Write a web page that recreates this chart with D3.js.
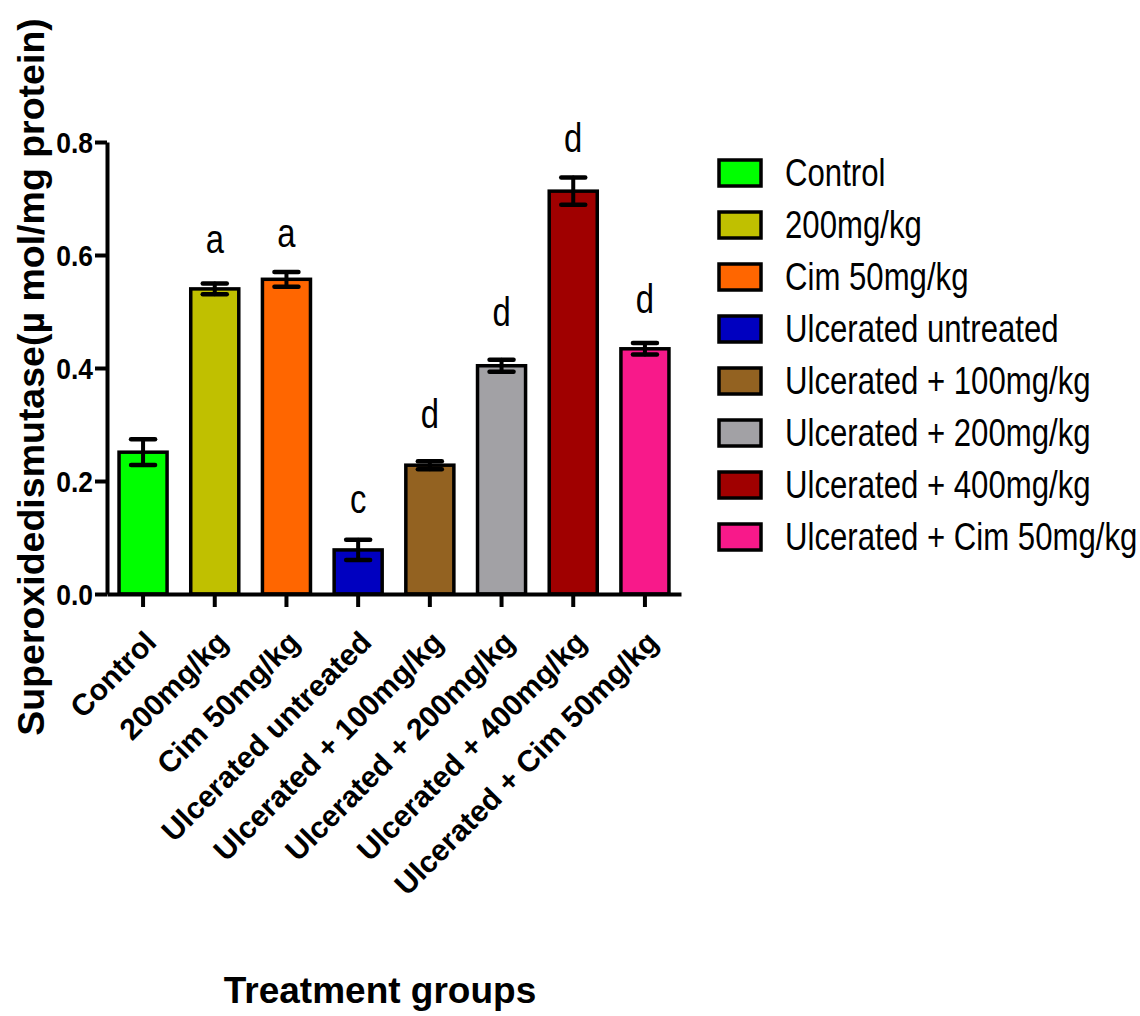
<!DOCTYPE html>
<html>
<head>
<meta charset="utf-8">
<script src="https://cdn.jsdelivr.net/npm/d3@7"></script>
<style>
  html, body { margin: 0; padding: 0; background: #fff; }
  svg { display: block; }
</style>
</head>
<body>
<script>
// ---- data ----
const categories = ["Control", "200mg/kg", "Cim 50mg/kg", "Ulcerated untreated",
  "Ulcerated + 100mg/kg", "Ulcerated + 200mg/kg", "Ulcerated + 400mg/kg", "Ulcerated + Cim 50mg/kg"];
const means = [0.251, 0.540, 0.557, 0.078, 0.228, 0.404, 0.713, 0.434];
const errors = [0.0227, 0.0094, 0.013, 0.018, 0.007, 0.0106, 0.024, 0.0103];
const colors = ["#00ff00", "#c0c000", "#ff6600", "#0000c0", "#936221", "#a2a1a5", "#a00000", "#f8198a"];
const letters = ["", "a", "a", "c", "d", "d", "d", "d"];
const letterValues = [null, 0.6035, 0.614, 0.143, 0.294, 0.475, 0.782, 0.497];
const yTicks = [0.0, 0.2, 0.4, 0.6, 0.8];
const yTitle = "Superoxidedismutase(\u00b5 mol/mg protein)";
const xTitle = "Treatment groups";

// ---- layout ----
const W = 1140, H = 1016;
const svg = d3.select("body").append("svg").attr("width", W).attr("height", H);

const y = d3.scaleLinear().domain([0, 0.8]).range([594, 142]);
const x = d3.scaleBand().domain(categories).range([107, 681]).paddingInner(0.33).paddingOuter(0.168);

const font = "'Liberation Sans', Arial, sans-serif";
const narrow = 0.82;

// bars
svg.append("g").selectAll("rect").data(categories).join("rect")
  .attr("x", d => x(d))
  .attr("y", (d, i) => y(means[i]))
  .attr("width", x.bandwidth())
  .attr("height", (d, i) => y(0) - y(means[i]))
  .attr("fill", (d, i) => colors[i])
  .attr("stroke", "#000")
  .attr("stroke-width", 3.5);

// error bars
const eb = svg.append("g").attr("stroke", "#000").attr("stroke-linecap", "round");
categories.forEach((c, i) => {
  const cx = x(c) + x.bandwidth() / 2;
  const hi = y(means[i] + errors[i]), lo = y(means[i] - errors[i]);
  eb.append("line").attr("x1", cx).attr("x2", cx).attr("y1", hi).attr("y2", lo).attr("stroke-width", 4);
  eb.append("line").attr("x1", cx - 12).attr("x2", cx + 12).attr("y1", hi).attr("y2", hi).attr("stroke-width", 4.5);
  eb.append("line").attr("x1", cx - 12).attr("x2", cx + 12).attr("y1", lo).attr("y2", lo).attr("stroke-width", 4.5);
});

// significance letters
svg.append("g").selectAll("text").data(categories).join("text")
  .attr("transform", (d, i) => `translate(${x(d) + x.bandwidth() / 2},${letterValues[i] == null ? 0 : y(letterValues[i])}) scale(${narrow},1)`)
  .attr("text-anchor", "middle")
  .attr("font-family", font)
  .attr("font-size", 40)
  .attr("fill", "#000")
  .text((d, i) => letters[i]);

// y axis
const yAxis = svg.append("g").attr("transform", "translate(107,0)")
  .call(d3.axisLeft(y).tickValues(yTicks).tickFormat(d3.format(".1f")).tickSize(12).tickSizeOuter(0));
yAxis.select(".domain").attr("stroke-width", 4);
yAxis.selectAll(".tick line").attr("stroke-width", 4);
yAxis.selectAll(".tick text")
  .attr("font-family", font).attr("font-weight", "bold").attr("font-size", 30)
  .attr("fill", "#000").attr("x", 0).attr("dy", "0.36em")
  .attr("transform", "translate(-14,0) scale(0.88,1)");

// x axis
const xAxis = svg.append("g").attr("transform", "translate(0,594)")
  .call(d3.axisBottom(x).tickSize(13).tickSizeOuter(0));
xAxis.select(".domain").attr("stroke-width", 4);
xAxis.selectAll(".tick line").attr("stroke-width", 4);
xAxis.selectAll(".tick text")
  .attr("font-family", font).attr("font-weight", "bold").attr("font-size", 30)
  .attr("fill", "#000")
  .attr("text-anchor", "end")
  .attr("x", 0).attr("y", 0).attr("dy", 0)
  .attr("transform", "translate(15,50) rotate(-45)");

// axis titles
svg.append("text")
  .attr("transform", "translate(44,377) rotate(-90)")
  .attr("text-anchor", "middle")
  .attr("font-family", font).attr("font-weight", "bold").attr("font-size", 37.5)
  .text(yTitle);
svg.append("text")
  .attr("x", 380).attr("y", 1003)
  .attr("text-anchor", "middle")
  .attr("font-family", font).attr("font-weight", "bold").attr("font-size", 37)
  .text(xTitle);

// legend
const legend = svg.append("g");
categories.forEach((c, i) => {
  const cy = 173 + i * 52;
  legend.append("rect").attr("x", 719).attr("y", cy - 13).attr("width", 42).attr("height", 26)
    .attr("fill", colors[i]).attr("stroke", "#000").attr("stroke-width", 3.5);
  legend.append("text").attr("transform", `translate(785,${cy + 13}) scale(${narrow},1)`)
    .attr("font-family", font).attr("font-size", 38).attr("fill", "#000")
    .text(c);
});
</script>
</body>
</html>
